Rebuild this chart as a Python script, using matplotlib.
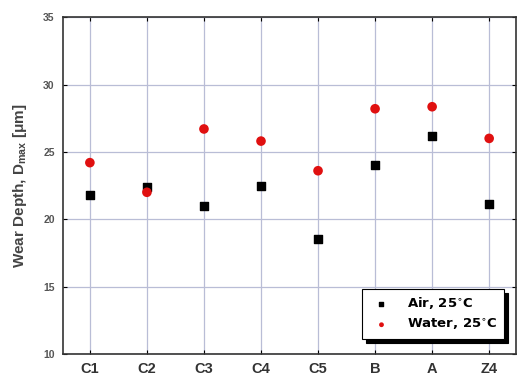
import matplotlib.pyplot as plt
import numpy as np

samples = ['C1', 'C2', 'C3', 'C4', 'C5', 'B', 'A', 'Z4']
air_25c = [21.8, 22.4, 21.0, 22.5, 18.55, 24.0, 26.2, 21.1]
water_25c = [24.2, 22.0, 26.7, 25.8, 23.6, 28.2, 28.35, 26.0]

plt.rcParams['font.family'] = ['Liberation Sans', 'DejaVu Sans']

fig = plt.figure(figsize=(5.17, 3.81), dpi=100)
ax = fig.add_axes([0.122, 0.071, 0.876, 0.884])

x = np.arange(len(samples))
ax.scatter(x, air_25c, marker='s', s=34, color='black', zorder=3, label='Air, 25$^{\\circ}$C')
ax.scatter(x, water_25c, marker='o', s=48, color='#e01010', edgecolors='none',
           zorder=3, label='Water, 25$^{\\circ}$C')

ax.set_xlim(-0.47, 7.47)
ax.set_ylim(10, 35)
ax.set_xticks(x)
ax.set_xticklabels(samples, fontsize=10.5, fontweight='bold', color='#333333')
ax.set_yticks([10, 15, 20, 25, 30, 35])
ax.set_yticklabels([str(v) for v in [10, 15, 20, 25, 30, 35]],
                   fontsize=7.5, fontweight='bold', color='#555555')
ax.tick_params(direction='in', top=True, right=True, length=3, width=0.8)
ax.tick_params(axis='x', pad=6)
ax.tick_params(axis='y', pad=6)

ax.grid(True, color='#b9bdd6', lw=0.9)
ax.set_axisbelow(True)
for sp in ax.spines.values():
    sp.set_linewidth(1.2)
    sp.set_color('#333333')

ax.set_ylabel('Wear Depth, D$_{\\mathregular{max}}$ [$\\mathregular{\\mu}$m]',
              fontsize=11, fontweight='bold', color='#444444', labelpad=10)

leg = ax.legend(loc='lower right', bbox_to_anchor=(0.973, 0.045), borderaxespad=0,
                prop={'family': 'DejaVu Sans', 'weight': 'bold', 'size': 9.5},
                markerscale=0.5, fancybox=False,
                shadow={'ox': 3, 'oy': -3, 'color': 'black', 'alpha': 1},
                edgecolor='black', framealpha=1, handletextpad=0.9, borderpad=0.5,
                labelspacing=0.45, handlelength=2.0)
leg.get_frame().set_linewidth(0.8)

plt.savefig('out.png', dpi=100)
